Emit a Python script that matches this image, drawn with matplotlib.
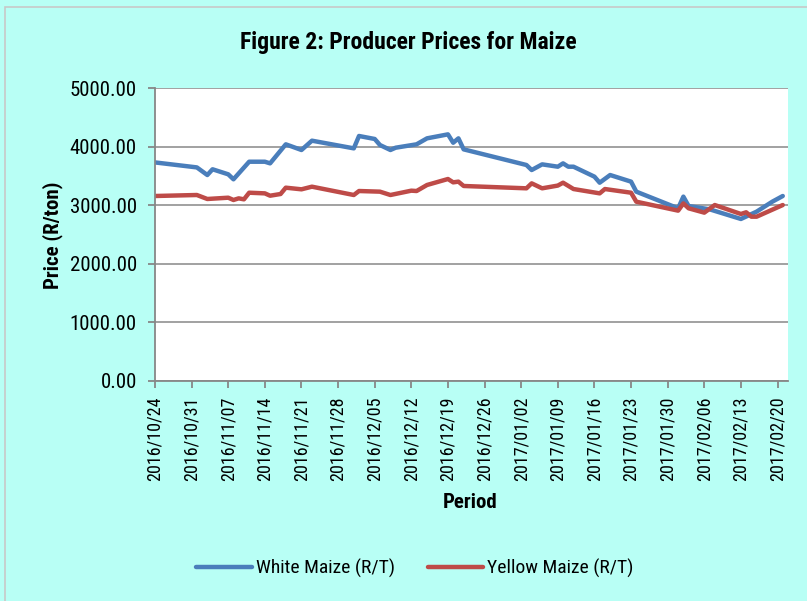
import pandas as pd
import matplotlib.pyplot as plt
import matplotlib.dates as mdates
from matplotlib.patches import Rectangle

# values (R/ton)
white_dates = ["2016-10-24", "2016-11-01", "2016-11-03", "2016-11-04", "2016-11-07",
               "2016-11-08", "2016-11-11", "2016-11-14", "2016-11-15", "2016-11-18",
               "2016-11-21", "2016-11-23", "2016-12-01", "2016-12-02", "2016-12-05",
               "2016-12-06", "2016-12-08", "2016-12-09", "2016-12-13", "2016-12-15",
               "2016-12-19", "2016-12-20", "2016-12-21", "2016-12-22", "2017-01-03",
               "2017-01-04", "2017-01-06", "2017-01-09", "2017-01-10", "2017-01-11",
               "2017-01-12", "2017-01-16", "2017-01-17", "2017-01-19", "2017-01-23",
               "2017-01-24", "2017-02-01", "2017-02-02", "2017-02-03", "2017-02-07",
               "2017-02-13", "2017-02-16", "2017-02-19", "2017-02-21"]
white_prices = [3730, 3645, 3515, 3613, 3527, 3442, 3742, 3742, 3714, 4039,
                3942, 4101, 3970, 4181, 4130, 4027, 3942, 3981, 4039, 4141,
                4209, 4066, 4141, 3953, 3686, 3600, 3697, 3657, 3714, 3657,
                3657, 3487, 3384, 3515, 3402, 3231, 2947, 3146, 2986, 2930,
                2765, 2890, 3060, 3157]

yellow_dates = ["2016-10-24", "2016-11-01", "2016-11-03", "2016-11-07", "2016-11-08",
                "2016-11-09", "2016-11-10", "2016-11-11", "2016-11-14", "2016-11-15",
                "2016-11-17", "2016-11-18", "2016-11-21", "2016-11-23", "2016-12-01",
                "2016-12-02", "2016-12-06", "2016-12-08", "2016-12-12", "2016-12-13",
                "2016-12-15", "2016-12-19", "2016-12-20", "2016-12-21", "2016-12-22",
                "2017-01-03", "2017-01-04", "2017-01-06", "2017-01-09", "2017-01-10",
                "2017-01-12", "2017-01-17", "2017-01-18", "2017-01-23", "2017-01-24",
                "2017-02-01", "2017-02-02", "2017-02-03", "2017-02-06", "2017-02-08",
                "2017-02-13", "2017-02-14", "2017-02-15", "2017-02-16", "2017-02-21"]
yellow_prices = [3157, 3174, 3106, 3128, 3089, 3117, 3100, 3213, 3202, 3162,
                 3191, 3299, 3271, 3316, 3174, 3242, 3231, 3174, 3248, 3242,
                 3345, 3447, 3390, 3402, 3328, 3288, 3373, 3288, 3335, 3384,
                 3276, 3202, 3276, 3213, 3060, 2907, 3031, 2947, 2873, 3003,
                 2850, 2879, 2804, 2804, 3003]

y_ticks = [0, 1000, 2000, 3000, 4000, 5000]

BG = "#b8fff5"
BLUE = "#4a7ebb"
RED = "#be4b48"
GREY = "#878787"

plt.rcParams["font.family"] = ["Roboto Condensed", "DejaVu Sans"]

fig = plt.figure(figsize=(8.07, 6.01), dpi=100, facecolor=BG)
ax = fig.add_axes([155 / 807, 1 - 381 / 601, (788 - 155) / 807, (381 - 88) / 601])
ax.set_facecolor("white")

# outer chart border
fig.patches.append(Rectangle((5 / 807, -0.1), 1.2, 1 - 7 / 601 + 0.1,
                             transform=fig.transFigure, fill=False,
                             edgecolor="#c8c8c8", linewidth=1.2))

ax.plot(pd.to_datetime(white_dates), white_prices, color=BLUE, lw=3.2,
        solid_joinstyle="round", solid_capstyle="round", label="White Maize (R/T)")
ax.plot(pd.to_datetime(yellow_dates), yellow_prices, color=RED, lw=3.2,
        solid_joinstyle="round", solid_capstyle="round", label="Yellow Maize (R/T)")

ax.set_ylim(0, 5000)
ax.set_yticks(y_ticks)
ax.set_yticklabels([f"{v:.2f}" for v in y_ticks])
ax.yaxis.grid(True, color=GREY, lw=1.1)
ax.set_axisbelow(True)

week_ticks = pd.date_range("2016-10-24", "2017-02-20", freq="7D")
ax.set_xticks(week_ticks)
ax.xaxis.set_major_formatter(mdates.DateFormatter("%Y/%m/%d"))
ax.set_xlim(pd.Timestamp("2016-10-24"), pd.Timestamp("2017-02-22"))

for s in ["top", "right"]:
    ax.spines[s].set_visible(False)
for s in ["left", "bottom"]:
    ax.spines[s].set_color(GREY)
    ax.spines[s].set_linewidth(1.3)

ax.tick_params(axis="y", length=5, width=1.3, color=GREY, pad=8, labelsize=15)
ax.tick_params(axis="x", length=5, width=1.3, color=GREY, pad=6, labelsize=13,
               labelrotation=90)

fig.text(408 / 807, 1 - 42 / 601, "Figure 2: Producer Prices for Maize",
         ha="center", va="center", fontsize=17, fontweight="bold")
fig.text(53 / 807, 1 - 235 / 601, "Price (R/ton)", rotation=90,
         ha="center", va="center", fontsize=15, fontweight="bold")
fig.text(470 / 807, 1 - 503 / 601, "Period", ha="center", va="center",
         fontsize=15, fontweight="bold")

fig.legend(loc="center", bbox_to_anchor=(415 / 807, 1 - 568 / 601), ncol=2,
           frameon=False, fontsize=14, handlelength=2.85, handletextpad=0.2,
           columnspacing=1.7)

fig.savefig("out.png", dpi=100, facecolor=BG)
